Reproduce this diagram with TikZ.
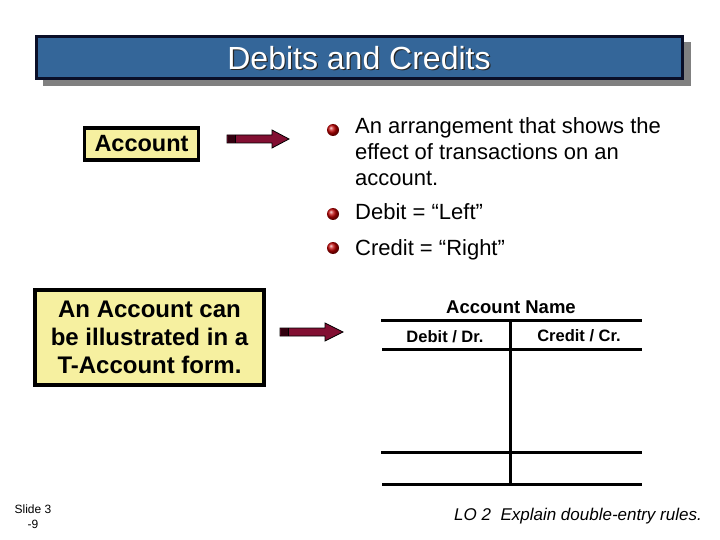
\documentclass[tikz,border=0pt]{standalone}
\usepackage{fontspec}
\setmainfont{Liberation Sans}
\definecolor{titleblue}{RGB}{52,102,153}
\definecolor{titleborder}{RGB}{10,15,40}
\definecolor{shadowgray}{RGB}{128,128,128}
\definecolor{yfill}{RGB}{246,240,160}
\definecolor{arrowred}{RGB}{130,15,50}
\definecolor{arrowdark}{RGB}{50,0,15}
\newcommand\slidearrow[4]{%
  \fill[arrowred,draw=black,line width=0.8pt]
    (#1,#4-4) -- (#2,#4-4) -- (#2,#4-9) -- (#3,#4) -- (#2,#4+9) -- (#2,#4+4) -- (#1,#4+4) -- cycle;
  \fill[arrowdark] (#1+0.5,#4-3.6) rectangle (#1+8,#4+3.6);
  \draw[black,line width=1pt] (#1+8,#4-4) -- (#1+8,#4+4);
}
\begin{document}
\begin{tikzpicture}[x=1pt,y=-1pt,
  ybox/.style={draw=black,line width=3.5pt,fill=yfill,align=center,inner sep=0pt},
  btext/.style={anchor=base west,inner sep=0pt,font=\fontsize{22}{26}\selectfont},
  tline/.style={line width=3pt,black},
  thead/.style={font=\bfseries\fontsize{16.5}{20}\selectfont,inner sep=0pt},
  bullet/.style={ball color=red!75!black}
]
\useasboundingbox (0,0) rectangle (720,540);
\fill[white] (0,0) rectangle (720,540);

% title bar
\fill[shadowgray] (43,42) rectangle (691,86);
\filldraw[fill=titleblue,draw=titleborder,line width=3pt] (36.5,36.5) rectangle (682.5,78.5);
\node[text=black!85,font=\fontsize{32}{36}\selectfont] at (360.2,59.2) {Debits and Credits};
\node (title) [text=white,font=\fontsize{32}{36}\selectfont] at (359,58) {Debits and Credits};

% Account box
\node (acct) [ybox,minimum width=114pt,minimum height=32pt,font=\bfseries\fontsize{23.5}{26}\selectfont] at (141.5,144) {Account};
\slidearrow{227}{272}{289}{139}

% bullets
\shade[bullet] (333,130) circle (6);
\shade[bullet] (333,214) circle (6);
\shade[bullet] (333,248) circle (6);
\node (b1a) [btext] at (355,134) {An arrangement that shows the};
\node (b1b) [btext] at (355,160) {effect of transactions on an};
\node (b1c) [btext] at (355,186) {account.};
\node (b2) [btext] at (355,220) {Debit = “Left”};
\node (b3) [btext] at (355,255) {Credit = “Right”};

% T-account box
\node (tbox) [ybox,minimum width=229pt,minimum height=95pt,font=\bfseries\fontsize{24}{28}\selectfont] at (149.5,337.5) {An Account can\\be illustrated in a\\T-Account form.};
\slidearrow{280}{325}{343}{332}

% T-account
\node (tname) [inner sep=0pt,font=\bfseries\fontsize{18.5}{22}\selectfont] at (511,307) {Account Name};
\draw[tline] (381,320) -- (642,320);
\draw[tline] (382,349) -- (642,349);
\draw[tline] (381,452) -- (642,452);
\draw[tline] (382,484) -- (642,484);
\draw[tline] (510,320) -- (510,486);
\node (tdr) [thead] at (445,337) {Debit / Dr.};
\node (tcr) [thead] at (579,336) {Credit / Cr.};

% footer
\node (slide) [inner sep=0pt,font=\fontsize{12}{14}\selectfont] at (33,509) {Slide 3};
\node (slnum) [inner sep=0pt,font=\fontsize{12}{14}\selectfont] at (33,524) {-9};
\node (lo) [anchor=east,inner sep=0pt,font=\itshape\fontsize{17}{20}\selectfont] at (702,516) {LO 2\ \ Explain double-entry rules.};
\end{tikzpicture}
\end{document}
